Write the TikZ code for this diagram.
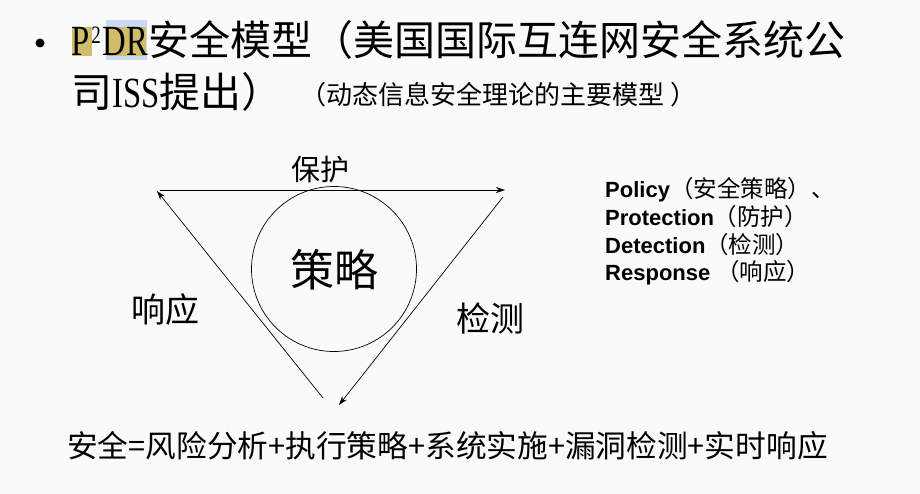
\documentclass[tikz,border=0pt]{standalone}
\usepackage{fontspec}
\usetikzlibrary{arrows.meta}
\setmainfont{Liberation Serif}[FakeStretch=0.76]
\setsansfont{Liberation Sans}
\newfontfamily\zh{Noto Sans CJK SC}
\definecolor{hlolive}{HTML}{CFBD69}
\definecolor{hlblue}{HTML}{C9DAF2}
\definecolor{pagebg}{HTML}{FAFAFA}
\begin{document}
\begin{tikzpicture}[x=1pt, y=-1pt,
		title/.style={anchor=base west, inner sep=0pt, font=\fontsize{43}{48}\selectfont},
		zhtag/.style={inner sep=0pt, font=\zh\fontsize{#1}{#1}\selectfont},
		legend/.style={anchor=base west, inner sep=0pt, font=\sffamily\bfseries\fontsize{22}{24}\selectfont},
		flow/.style={-{Stealth[length=9pt, width=6pt]}, line width=0.7pt}]

	\useasboundingbox[fill=pagebg] (0,0) rectangle (920,494);

	% Markierung im Titel
	\fill[hlolive] (72,27) rectangle (92,56);
	\fill[hlblue] (106,20) rectangle (147,60);
	\fill[hlolive] (107,27) rectangle (146,56);

	\fill (40,43) circle (4.5pt);
	\node[title] (t1) at (71,56) {P\hspace{2pt}\raisebox{12pt}{\fontsize{25}{25}\selectfont 2}\hspace{2pt}DR{\zh\fontsize{41}{48}\selectfont 安全模型（美国国际互连网安全系统公}};
	\node[title] (t2) at (71,108) {{\zh\fontsize{41}{48}\selectfont 司}ISS{\zh\fontsize{41}{48}\selectfont 提出）}};
	\node[zhtag=26, anchor=base west] (t3) at (300,105) {（动态信息安全理论的主要模型 ）};

	\node[circle, draw, line width=0.7pt, minimum size=165pt, inner sep=0pt] (core) at (334,269) {};
	\node[zhtag=44] (policy) at (334,270) {策略};

	\coordinate (pa) at (160,190);
	\coordinate (pb) at (505,190);
	\coordinate (da) at (503,197);
	\coordinate (db) at (339,405);
	\coordinate (ra) at (323,398);
	\coordinate (rb) at (157,191);

	\draw[flow] (pa) -- (pb);
	\draw[flow] (da) -- (db);
	\draw[flow] (ra) -- (rb);

	\node[zhtag=29] (prot) at (320,170) {保护};
	\node[zhtag=34] (det) at (490,318) {检测};
	\node[zhtag=34] (resp) at (165,310) {响应};

	\node[legend] (l1) at (605,198) {Policy{\zh\mdseries\fontsize{23.5}{24}\selectfont （安全策略）、}};
	\node[legend] (l2) at (605,225.5) {Protection{\zh\mdseries\fontsize{23.5}{24}\selectfont （防护）}};
	\node[legend] (l3) at (605,253) {Detection{\zh\mdseries\fontsize{23.5}{24}\selectfont （检测）}};
	\node[legend] (l4) at (605,280.5) {Response {\zh\mdseries\fontsize{23.5}{24}\selectfont （响应）}};

	\node[zhtag=30.7, anchor=base west] (formula) at (67,457) {安全=风险分析+执行策略+系统实施+漏洞检测+实时响应};

\end{tikzpicture}
\end{document}
